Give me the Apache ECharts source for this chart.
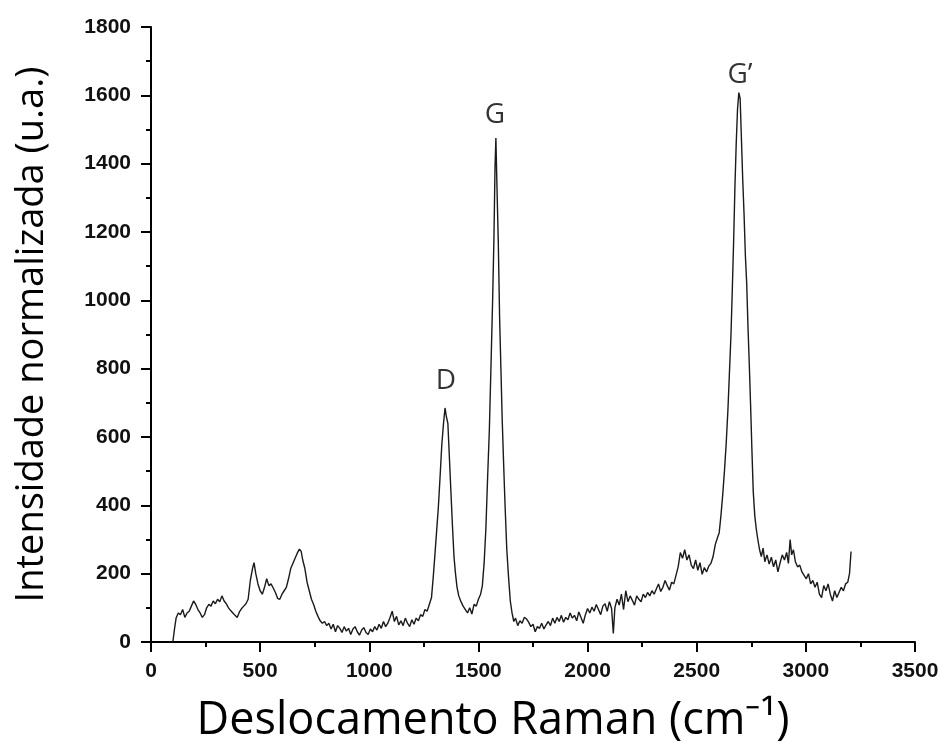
<!DOCTYPE html>
<html>
<head>
<meta charset="utf-8">
<script src="https://cdn.jsdelivr.net/npm/echarts@6/dist/echarts.min.js"></script>
<style>html,body{margin:0;padding:0;background:#fff}#c{width:949px;height:751px}</style>
</head>
<body>
<div id="c"></div>
<script>
// Raman shift (cm-1)
var ramanShift = [100,108,115,125,135,145,155,165,175,185,195,205,215,225,235,245,255,265,275,285,295,305,315,325,335,345,355,365,375,385,395,405,415,425,435,445,455,465,472,480,490,500,510,520,530,540,550,560,570,580,590,600,610,620,630,640,650,660,670,680,688,695,705,715,725,735,745,755,765,775,785,795,805,815,825,835,845,855,865,875,885,895,905,915,925,935,945,955,965,975,985,995,1005,1015,1025,1035,1045,1055,1065,1075,1085,1095,1105,1115,1125,1135,1145,1155,1165,1175,1185,1195,1205,1215,1225,1235,1245,1255,1265,1275,1285,1293,1300,1308,1316,1324,1332,1340,1347,1353,1360,1367,1374,1381,1388,1395,1402,1410,1420,1430,1440,1450,1460,1470,1480,1490,1500,1510,1518,1526,1534,1542,1550,1558,1565,1571,1576,1580,1585,1591,1597,1603,1609,1615,1622,1630,1638,1646,1654,1662,1670,1680,1690,1700,1710,1720,1730,1740,1750,1760,1770,1780,1790,1800,1810,1820,1830,1840,1850,1860,1870,1880,1890,1900,1910,1920,1930,1940,1950,1960,1970,1980,1990,2000,2010,2020,2030,2040,2050,2060,2070,2080,2090,2100,2110,2118,2125,2135,2145,2155,2165,2175,2185,2195,2205,2215,2225,2235,2245,2255,2265,2275,2285,2295,2305,2315,2325,2335,2345,2355,2365,2375,2385,2395,2405,2415,2425,2435,2445,2455,2465,2475,2485,2495,2505,2515,2525,2535,2545,2555,2565,2575,2585,2595,2603,2611,2619,2627,2635,2643,2650,2657,2663,2669,2675,2681,2687,2693,2699,2705,2711,2717,2723,2729,2735,2741,2747,2753,2759,2766,2773,2780,2788,2796,2804,2812,2822,2832,2842,2852,2862,2872,2882,2892,2902,2912,2920,2928,2935,2943,2952,2962,2972,2982,2992,3002,3012,3022,3032,3042,3052,3062,3072,3082,3092,3102,3112,3122,3132,3142,3152,3162,3172,3182,3192,3200,3207];
// Normalized intensity (a.u.)
var intensity = [0,40,70,85,80,95,72,85,90,105,120,110,95,85,72,80,100,110,105,120,112,125,118,135,120,112,100,92,85,78,72,88,98,105,112,125,180,215,232,200,170,150,140,160,185,165,170,158,145,128,125,140,150,160,185,215,230,245,260,272,265,240,215,175,150,125,110,90,75,62,55,60,48,55,38,52,30,48,40,28,45,32,40,22,38,45,30,20,35,42,28,22,38,30,45,35,52,40,60,45,55,72,90,60,75,50,62,48,70,55,45,65,52,70,62,80,75,95,90,110,130,190,250,320,390,480,575,640,685,660,640,540,440,340,250,200,160,135,118,105,95,85,100,82,110,105,125,140,165,230,330,480,620,820,1000,1180,1390,1475,1330,1170,950,800,650,530,400,270,190,120,85,60,70,48,62,55,72,68,58,45,52,30,45,40,55,38,50,60,48,70,55,72,60,78,58,72,65,85,70,78,62,88,72,55,80,98,85,102,90,110,95,80,105,112,90,118,98,25,100,125,108,140,95,150,118,135,122,108,135,125,118,140,130,145,135,150,140,155,170,148,160,180,165,152,175,170,195,220,262,245,270,240,255,225,215,240,210,232,198,218,205,222,230,250,285,305,320,370,430,500,580,680,790,900,1030,1170,1330,1460,1560,1608,1590,1470,1350,1250,1130,1050,920,810,690,560,440,370,330,300,270,250,275,235,255,228,248,220,240,205,232,255,240,262,230,300,255,270,235,220,225,205,195,185,200,170,180,160,175,140,130,165,150,170,140,120,150,130,145,160,150,170,175,200,265];
// Peak annotations
var peakNames = ['D', 'G', 'G\u2019'];
var peakShift = [1351, 1576, 2698];
var peakLabelY = [764, 1542, 1659];

var xTicks = {min: 0, max: 3500, interval: 500};
var yTicks = {min: 0, max: 1800, interval: 200};

var lineData = ramanShift.map(function (x, i) { return [x, intensity[i]]; });
var peakData = peakNames.map(function (n, i) { return {name: n, value: [peakShift[i], peakLabelY[i]]}; });

var chart = echarts.init(document.getElementById('c'), null, {renderer: 'canvas'});
var axisFont = {fontFamily: 'Liberation Sans', fontSize: 21, fontWeight: 'bold', color: '#111',
                formatter: function (v) { return String(v); }};
chart.setOption({
  animation: false,
  backgroundColor: '#fff',
  grid: {left: 151, right: 34, top: 27, bottom: 109, containLabel: false},
  xAxis: {
    type: 'value', min: xTicks.min, max: xTicks.max, interval: xTicks.interval,
    name: 'Deslocamento Raman (cm\u207B\u00B9)', nameLocation: 'middle', nameGap: 57,
    nameTextStyle: {fontFamily: 'Open Sans', fontSize: 45, color: '#000', padding: [0, 80, 0, 0]},
    axisLine: {show: true, lineStyle: {color: '#000', width: 2}},
    axisTick: {show: true, length: 10, lineStyle: {color: '#000', width: 2}},
    minorTick: {show: true, splitNumber: 2, length: 5, lineStyle: {color: '#000', width: 2}},
    axisLabel: Object.assign({margin: 19}, axisFont),
    splitLine: {show: false}
  },
  yAxis: {
    type: 'value', min: yTicks.min, max: yTicks.max, interval: yTicks.interval,
    name: 'Intensidade normalizada (u.a.)', nameLocation: 'middle', nameGap: 100,
    nameTextStyle: {fontFamily: 'Open Sans', fontSize: 38, color: '#000'},
    axisLine: {show: true, lineStyle: {color: '#000', width: 2}},
    axisTick: {show: true, length: 10, lineStyle: {color: '#000', width: 2}},
    minorTick: {show: true, splitNumber: 2, length: 5, lineStyle: {color: '#000', width: 2}},
    axisLabel: Object.assign({margin: 20}, axisFont),
    splitLine: {show: false}
  },
  series: [
    {
      type: 'line', data: lineData, showSymbol: false, symbol: 'none',
      lineStyle: {color: '#1a1a1a', width: 1.4}
    },
    {
      type: 'scatter', data: peakData, symbolSize: 1,
      itemStyle: {color: 'rgba(0,0,0,0)'},
      label: {show: true, position: 'inside', formatter: '{b}',
              fontFamily: 'Open Sans', fontSize: 28, color: '#000'}
    }
  ]
});
</script>
</body>
</html>
